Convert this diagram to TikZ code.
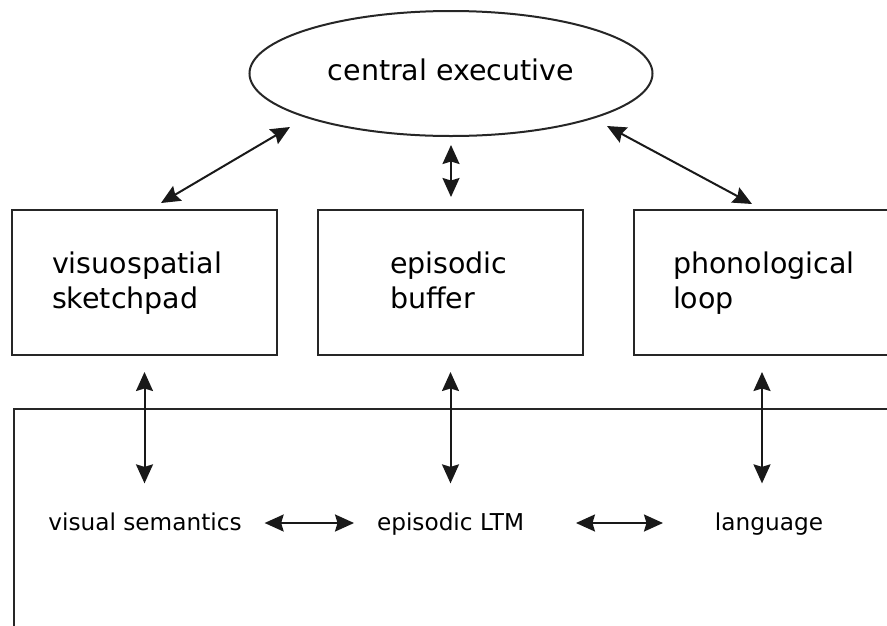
\documentclass[tikz,border=0pt]{standalone}
\usepackage{fontspec}
\setmainfont{DejaVu Sans}
\usetikzlibrary{arrows.meta,shapes.geometric}
\tikzset{>={Stealth[length=19pt,width=17pt,inset=2.5pt]}}
\tikzset{
  module/.style={draw=black!85,line width=2pt,minimum width=265pt,
    minimum height=145pt,inner sep=0pt,outer sep=0pt},
  link/.style={<->,line width=2pt,black!90},
  lbl/.style={inner sep=0pt,outer sep=0pt}
}
\newcommand*{\bigtxt}{\fontsize{28.5}{35}\selectfont}
\newcommand*{\smtxt}{\fontsize{23.2}{27}\selectfont}

\begin{document}
\begin{tikzpicture}[x=1pt,y=-1pt]
\useasboundingbox (0,0) rectangle (887,625);
\clip (0,0) rectangle (887,625);
% Pixel coordinates, y down

% Central executive
\node[ellipse,draw=black!85,line width=2pt,minimum width=403pt,
  minimum height=125pt,inner sep=0pt,outer sep=0pt] (ce) at (451,73.5) {};
\node[lbl,anchor=base,font=\bigtxt] (cetext) at (451,80) {central executive};

% Slave systems
\node[module] (vsp) at (144.5,282.5) {};
\node[module] (eb) at (450.5,282.5) {};
\node[module,minimum width=256pt] (pl) at (762,282.5) {};
% base anchor sits on the last line
\node[lbl,anchor=base west,font=\bigtxt,align=left] (vsptext) at (52,308)
  {visuospatial\\sketchpad};
\node[lbl,anchor=base west,font=\bigtxt,align=left] (ebtext) at (390,308)
  {episodic\\buffer};
\node[lbl,anchor=base west,font=\bigtxt,align=left] (pltext) at (673,308)
  {phonological\\loop};

% Long-term memory
\draw[black!85,line width=2pt] (14,409) rectangle (900,640);
\node[lbl,anchor=base,font=\smtxt] (vsem) at (145,530) {visual semantics};
\node[lbl,anchor=base,font=\smtxt] (elt) at (450.5,530) {episodic LTM};
\node[lbl,anchor=base,font=\smtxt] (lang) at (769,530) {language};

% Links to central executive
\coordinate (vspTop) at (161,203);
\coordinate (ceLeft) at (290,127);
\coordinate (ceRight) at (607,126);
\coordinate (plTop) at (752,204);
\draw[link] (vspTop) -- (ceLeft);
\draw[link] (ceRight) -- (plTop);
\draw[link,shorten <=9pt,shorten >=13pt] (ce.south) -- (ce.south |- eb.north);

% Links to LTM
\foreach \s/\t in {vsp/vsem,eb/elt,pl/lang}
  \draw[link,shorten <=17pt,shorten >=29pt] (\s.south) -- (\s.south |- \t.north);
\draw[link,shorten <=23pt,shorten >=23pt]
  ([yshift=7pt]vsem.base east) -- ([yshift=7pt]elt.base west);
\draw[link,shorten <=52pt,shorten >=52pt]
  ([yshift=7pt]elt.base east) -- ([yshift=7pt]lang.base west);
\end{tikzpicture}
\end{document}
